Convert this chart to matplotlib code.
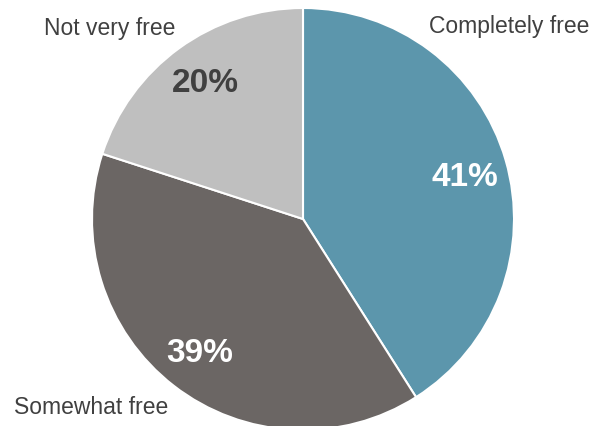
import matplotlib.pyplot as plt

plt.rcParams['font.family'] = ['Liberation Sans', 'DejaVu Sans']

# Survey shares, clockwise from the top
labels = ['Completely free', 'Somewhat free', 'Not very free']
shares = [41, 39, 20]
colors = ['#5C96AC', '#6B6664', '#BFBFBF']
pct_colors = ['white', 'white', '#404040']

W, H = 595, 426
fig = plt.figure(figsize=(W / 100, H / 100), dpi=100)
ax = fig.add_axes([0, 0, 1, 1])

cx, cy, r = 303, 219, 211
wedges, _ = ax.pie(shares, colors=colors, startangle=90, counterclock=False,
                   center=(cx, H - cy), radius=r, frame=True,
                   wedgeprops=dict(edgecolor='white', linewidth=1.5))
ax.set_xlim(0, W)
ax.set_ylim(0, H)
ax.set_aspect('equal')
ax.axis('off')

# category names outside the pie
name_pos = [(509, 27), (110, 29), (91, 408)]
name_pos = [name_pos[0], name_pos[2], name_pos[1]]
for name, (x, y) in zip(labels, name_pos):
    ax.text(x, H - y, name, ha='center', va='center', fontsize=16.5, color='#404040')

# percentages inside the slices
pct_pos = [(465, 178), (200, 353), (205, 84)]
for val, (x, y), c in zip(shares, pct_pos, pct_colors):
    ax.text(x, H - y, f'{val}%', ha='center', va='center', fontsize=24,
            fontweight='bold', color=c)

fig.savefig('out.png', dpi=100)
